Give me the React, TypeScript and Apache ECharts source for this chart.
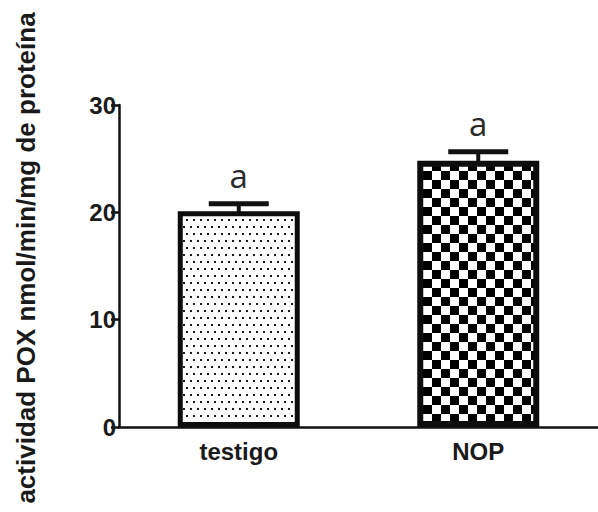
import React, { useEffect, useRef } from "react";
import * as echarts from "echarts";

const categories = ["testigo", "NOP"];
const means = [20.1, 24.8];
const errors = [0.7, 0.85];
const letters = ["a", "a"];
const yTicks = [0, 10, 20, 30];
const yTitle = "actividad POX nmol/min/mg de proteína";

function dotPattern(): string {
  const c = document.createElement("canvas");
  c.width = 7;
  c.height = 14;
  const ctx = c.getContext("2d")!;
  ctx.fillStyle = "#ffffff";
  ctx.fillRect(0, 0, 7, 14);
  ctx.fillStyle = "#1a1a1a";
  ctx.fillRect(1, 2, 2, 2);
  ctx.fillRect(4, 9, 2, 2);
  return c.toDataURL();
}

function checkerPattern(): string {
  const c = document.createElement("canvas");
  c.width = 18;
  c.height = 18;
  const ctx = c.getContext("2d")!;
  ctx.fillStyle = "#ffffff";
  ctx.fillRect(0, 0, 18, 18);
  ctx.fillStyle = "#000000";
  ctx.fillRect(0, 0, 9, 9);
  ctx.fillRect(9, 9, 9, 9);
  return c.toDataURL();
}

export default function App() {
  const ref = useRef<HTMLDivElement>(null);
  useEffect(() => {
    if (!ref.current) return;
    const chart = echarts.init(ref.current, null, { renderer: "svg" });
    const dots = dotPattern();
    const checks = checkerPattern();
    const fills = [
      { image: dots, repeat: "repeat", imageWidth: 7, imageHeight: 14 },
      { image: checks, repeat: "repeat", imageWidth: 18, imageHeight: 18 },
    ];
    const borders = [5, 6];
    const errData = categories.map((_, i) => [i, means[i], errors[i]]);
    const font = "Liberation Sans, Arial, sans-serif";

    chart.setOption({
      animation: false,
      backgroundColor: "#ffffff",
      grid: { left: 119, top: 105, bottom: 85, width: 486 },
      xAxis: {
        type: "category",
        data: categories,
        axisLine: { lineStyle: { color: "#111", width: 2.5 } },
        axisTick: { alignWithLabel: true, length: 8, lineStyle: { color: "#111", width: 2.5 } },
        axisLabel: {
          color: "#1a1a1a",
          fontFamily: font,
          fontWeight: "bold",
          fontSize: 24,
          margin: 12,
        },
      },
      yAxis: {
        type: "value",
        min: yTicks[0],
        max: yTicks[yTicks.length - 1],
        interval: 10,
        splitLine: { show: false },
        axisLine: { show: true, lineStyle: { color: "#111", width: 2.5 } },
        axisTick: { show: true, length: 8, lineStyle: { color: "#111", width: 2.5 } },
        axisLabel: {
          color: "#1a1a1a",
          fontFamily: font,
          fontWeight: "bold",
          fontSize: 24,
          margin: 3,
        },
      },
      graphic: [
        {
          type: "text",
          x: 26,
          y: 258,
          rotation: Math.PI / 2,
          style: {
            text: yTitle,
            fontFamily: font,
            fontWeight: "bold",
            fontSize: 26,
            fill: "#1a1a1a",
            textAlign: "center",
            textVerticalAlign: "middle",
          },
        },
      ],
      series: [
        {
          type: "custom",
          z: 1,
          data: errData,
          renderItem: (params: any, api: any) => {
            const i = api.value(0);
            const m = api.value(1);
            const e = api.value(2);
            const top = api.coord([i, m + e]);
            const bot = api.coord([i, m - e]);
            const half = 30;
            return {
              type: "group",
              children: [
                {
                  type: "line",
                  shape: { x1: top[0], y1: top[1], x2: bot[0], y2: bot[1] },
                  style: { stroke: "#111", lineWidth: 4 },
                },
                {
                  type: "line",
                  shape: { x1: top[0] - half, y1: top[1], x2: top[0] + half, y2: top[1] },
                  style: { stroke: "#111", lineWidth: 5 },
                },
                {
                  type: "line",
                  shape: { x1: bot[0] - half, y1: bot[1], x2: bot[0] + half, y2: bot[1] },
                  style: { stroke: "#333", lineWidth: 2 },
                },
              ],
            };
          },
        },
        {
          type: "bar",
          z: 2,
          barWidth: 122,
          data: means.map((v, i) => ({
            value: v,
            itemStyle: {
              color: fills[i],
              borderColor: "#0d0d0d",
              borderWidth: borders[i],
            },
          })),
        },
        {
          type: "custom",
          z: 3,
          data: errData,
          renderItem: (params: any, api: any) => {
            const i = api.value(0);
            const m = api.value(1);
            const e = api.value(2);
            const top = api.coord([i, m + e]);
            return {
              type: "text",
              x: top[0],
              y: top[1] - 12,
              style: {
                text: letters[params.dataIndex],
                fontFamily: "Open Sans, sans-serif",
                fontSize: 33,
                fill: "#2a2a2a",
                textAlign: "center",
                textVerticalAlign: "bottom",
              },
            };
          },
        },
      ],
    });
    return () => chart.dispose();
  }, []);
  return <div ref={ref} style={{ width: 598, height: 512, position: "absolute", left: 0, top: 0 }} />;
}
